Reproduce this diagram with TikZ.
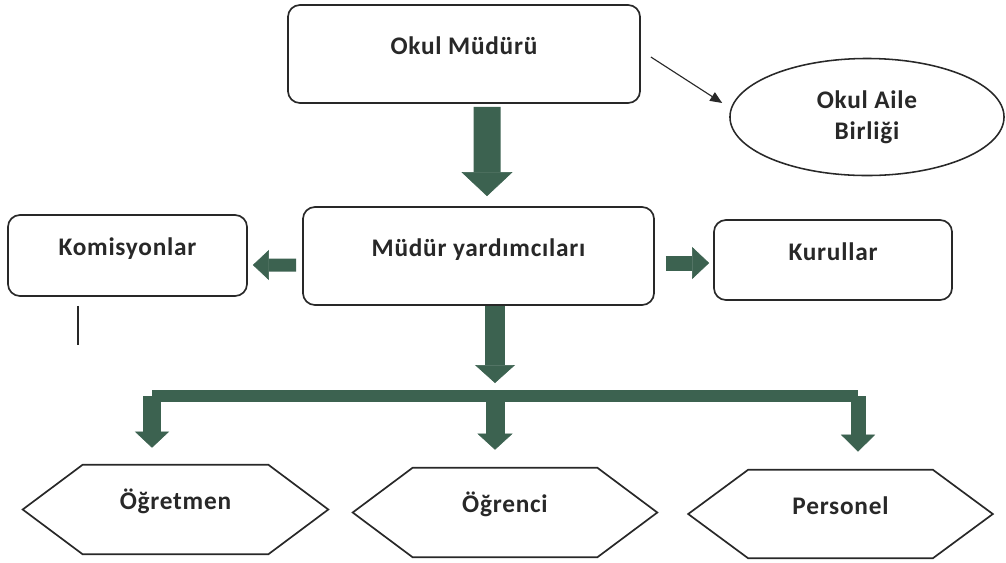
\documentclass[tikz,border=0pt]{standalone}
\usepackage{fontspec}
\setmainfont{Carlito}[LetterSpace=3]
\usetikzlibrary{shapes.geometric,arrows.meta}
\definecolor{arrgreen}{RGB}{60,98,80}
\definecolor{inkc}{RGB}{40,40,40}
\begin{document}
\begin{tikzpicture}[x=0.025cm,y=-0.025cm,
  txt/.style={font=\fontsize{18}{22}\selectfont\bfseries, text=inkc},
  box/.style={draw=inkc, line width=1.2pt, rounded corners=0.3cm, fill=white,
    inner sep=0pt, text height=0pt, text depth=0pt, txt},
  oval/.style={ellipse, draw=inkc, line width=1.1pt, fill=white, inner sep=0pt,
    align=center, txt},
  hexbody/.style={inner sep=0pt, text height=0pt, text depth=0pt, txt},
  hexline/.style={draw=inkc, line width=1.2pt, line join=miter},
  thinarrow/.style={draw=inkc, line width=0.8pt, -{Triangle[width=0.25cm,length=0.3cm]}},
  thinline/.style={draw=inkc, line width=0.8pt},
  fat/.style n args={3}{draw=arrgreen, line width=#1,
    -{Triangle[width=#2,length=#3,line width=0.4pt]}},
  bar/.style={draw=arrgreen, line width=0.3cm, line cap=square}
]
\path[fill=white] (0,0) rectangle (1006,562);
\useasboundingbox (0,0) rectangle (1006,562);

% nodes
\node[box, minimum width=8.8cm, minimum height=2.45cm] (mudur) at (464,54) {Okul Müdürü};
\node[oval, minimum width=6.85cm, minimum height=2.925cm] (aile) at (867,117) {Okul Aile\\Birliği};
\node[box, minimum width=8.775cm, minimum height=2.45cm] (mudy) at (478.5,256) {Müdür yardımcıları};
\node[box, minimum width=5.975cm, minimum height=2.025cm] (komisyon) at (127.5,255.5) {Komisyonlar};
\node[box, minimum width=5.95cm, minimum height=2cm] (kurul) at (833,260) {Kurullar};

\node[hexbody, minimum width=4.625cm, minimum height=2.225cm] (ogretmen) at (175.5,509.5) {Öğretmen};
\node[hexbody, minimum width=4.6cm, minimum height=2.225cm] (ogrenci) at (505,512.5) {Öğrenci};
\node[hexbody, minimum width=4.6cm, minimum height=2.2cm] (personel) at (840.5,514) {Personel};

\foreach \h in {ogretmen,ogrenci,personel}{
  \draw[hexline] (\h.north west) -- (\h.north east) -- ([xshift=1.5cm]\h.east)
    -- (\h.south east) -- (\h.south west) -- ([xshift=-1.5cm]\h.west) -- cycle;
}

% thin connectors
\draw[thinarrow] ([shift={(10,3)}]mudur.east) -- ([shift={(-7,-14)}]aile.west);
\coordinate (kle) at (78,345);
\draw[thinline] ([shift={(-49.5,9)}]komisyon.south) -- (kle);

% block arrows
\draw[fat={0.675cm}{1.275cm}{0.6cm}, shorten <=0.075cm, shorten >=0.25cm]
  ([xshift=0.575cm]mudur.south) -- ([xshift=0.2125cm]mudy.north);
\draw[fat={0.325cm}{0.75cm}{0.4cm}]
  ([shift={(-6,9)}]mudy.west) -- ([shift={(5,9.5)}]komisyon.east);
\draw[fat={0.375cm}{0.8cm}{0.425cm}]
  ([shift={(11,7)}]mudy.east) -- ([shift={(-4,3)}]kurul.west);

\coordinate (bl) at (152,396);
\coordinate (bm) at (495,396);
\coordinate (br) at (858,396);
\draw[bar] (bl) -- (br);
\draw[fat={0.5cm}{1cm}{0.45cm}, shorten >=0.325cm] (mudy.south -| bm) -- (bm);
\draw[fat={0.425cm}{0.85cm}{0.4cm}, shorten >=0.425cm] (bl) -- (ogretmen.north -| bl);
\draw[fat={0.475cm}{0.875cm}{0.4cm}, shorten >=0.45cm] (bm) -- (ogrenci.north -| bm);
\draw[fat={0.375cm}{0.85cm}{0.425cm}, shorten >=0.45cm] (br) -- (personel.north -| br);
\end{tikzpicture}
\end{document}
